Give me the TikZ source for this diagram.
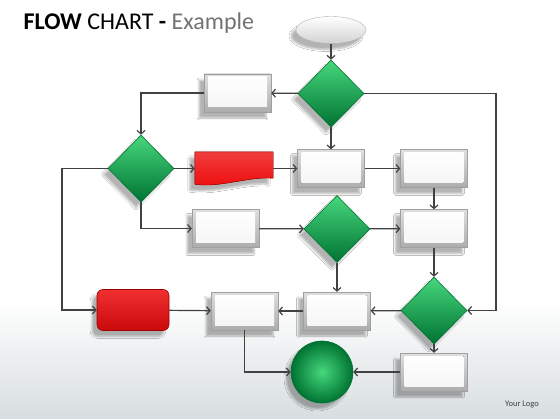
\documentclass[tikz,border=0pt]{standalone}
\usepackage{fontspec}
\setmainfont{Carlito}
\usetikzlibrary{shapes.geometric, arrows.meta, shadows.blur, calc}

\definecolor{flowgreen}{RGB}{20,170,85}
\definecolor{darkgreen}{RGB}{0,115,50}
\definecolor{lightgreen}{RGB}{70,215,125}
\definecolor{flowred}{RGB}{238,12,12}
\definecolor{darkred}{RGB}{160,0,0}
\definecolor{linegray}{RGB}{65,65,65}
\definecolor{bggray}{RGB}{216,222,224}

\tikzset{
	castshadow/.style = {blur shadow = {shadow xshift = -5pt, shadow yshift = -6pt, shadow blur steps = 6, shadow opacity = 30}},
	decision/.style = {diamond, minimum width = 66pt, minimum height = 67pt, inner sep = 0pt, draw = darkgreen, line width = 0.6pt, top color = lightgreen, bottom color = darkgreen, castshadow},
	box/.style = {rectangle, minimum width = 67pt, minimum height = 38pt, inner sep = 0pt, draw = gray!75, top color = gray!25, bottom color = gray!65, castshadow,
		path picture = {\fill [top color = white, bottom color = gray!8] ($ (path picture bounding box.north west) + (4pt,-3pt) $) rectangle ($ (path picture bounding box.south east) + (-4pt,5pt) $);}},
	link/.style = {draw = linegray, line width = 1.2pt, -{Straight Barb[length = 3.5pt, width = 8pt]}}
}

\begin{document}
\begin{tikzpicture}[x = 1pt, y = -1pt]
		\def\colmid{331};
		\def\colright{434};
		
		\useasboundingbox (0,0) rectangle (560,420);
		
		%background
		\fill [white] (0,0) rectangle (560,420);
		\shade [top color = white, bottom color = bggray] (0,300) rectangle (560,418);
		
		\node [anchor = base west, font = \fontsize{24}{28}\selectfont] (title) at (20,30) {\textbf{FLOW} CHART \textbf{-} \textcolor{gray!90!black}{Example}};
		\node [font = \fontsize{8.5}{10}\selectfont, text = linegray] (logo) at (522,405) {Your Logo};
		
		%start and end
		\node [ellipse, minimum width = 70pt, minimum height = 27pt, draw = gray!60, top color = white, bottom color = gray!35, castshadow] (start) at (\colmid,30) {};
		\node [circle, minimum size = 62pt, inner sep = 0pt, draw = darkgreen, line width = 0.6pt, inner color = lightgreen, outer color = darkgreen, castshadow] (finish) at (322,372) {};
		
		%decisions
		\node [decision] (choice one) at (\colmid,93.5) {};
		\node [decision] (choice two) at (141,168.5) {};
		\node [decision] (choice three) at (337,229) {};
		\node [decision] (choice four) at (\colright,310.5) {};
		
		%boxes
		\node [box] (step a) at (237.5,93) {};
		\node [box] (step b) at (\colmid,168.5) {};
		\node [box] (step c) at (\colright,168.5) {};
		\node [box] (step d) at (225.5,228.5) {};
		\node [box] (step e) at (\colright,228.5) {};
		\node [box] (step f) at (244.5,311) {};
		\node [box] (step g) at (337,311) {};
		\node [box] (step h) at (\colright,372) {};
		
		%red ones
		\node [rectangle, minimum width = 78pt, minimum height = 33pt, inner sep = 0pt] (document) at (234,168.5) {};
		\fill [top color = flowred!80!white, bottom color = flowred, draw = darkred, line width = 0.4pt, castshadow] (document.north west) -- (document.north east) -- ($ (document.south east) + (0,-7) $) .. controls ($ (document.south east) + (-25,-9) $) and ($ (document.south west) + (25,3) $) .. ($ (document.south west) + (0,-1) $) -- cycle;
		\node [rectangle, rounded corners = 6pt, minimum width = 72pt, minimum height = 41pt, inner sep = 0pt, draw = darkred, line width = 0.6pt, top color = flowred!85!white, bottom color = flowred!85!black, castshadow] (alarm) at (133,310) {};
		
		\coordinate (corner right) at (496,93.5);
		\coordinate (corner left) at (62,168.5);
		
		%links
		\draw [link] (start) -- (choice one);
		\draw [link] (choice one) -- (step a);
		\draw [link] (step a.west) -| (choice two.north);
		\draw [link] (choice one.east) -- (corner right) |- (choice four.east);
		\draw [link] (choice one) -- (step b);
		\draw [link] (choice two) -- (document);
		\draw [link] (document) -- (step b);
		\draw [link] (step b) -- (step c);
		\draw [link] (step c) -- (step e);
		\draw [link] (choice two.south) |- (step d.west);
		\draw [link] (step d) -- (choice three);
		\draw [link] (choice three) -- (step e);
		\draw [link] (step e) -- (choice four);
		\draw [link] (choice two.west) -- (corner left) |- (alarm.west);
		\draw [link] (choice three) -- (step g);
		\draw [link] (choice four) -- (step g);
		\draw [link] (step g) -- (step f);
		\draw [link] (alarm) -- (step f);
		\draw [link] (step f.south) |- (finish.west);
		\draw [link] (choice four) -- (step h);
		\draw [link] (step h) -- (finish);
	\end{tikzpicture}
\end{document}
